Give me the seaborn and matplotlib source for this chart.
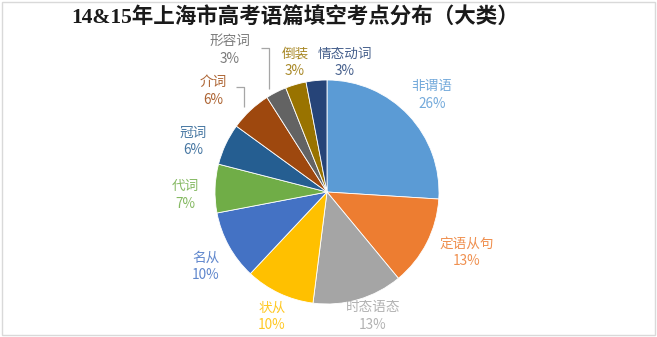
import matplotlib
matplotlib.use("Agg")
import matplotlib.pyplot as plt
import numpy as np
import seaborn as sns

# Exam point categories and their shares (%)
categories = ["非谓语", "定语从句", "时态语态", "状从", "名从", "代词",
              "冠词", "介词", "形容词", "倒装", "情态动词"]
shares = [26, 13, 13, 10, 10, 7, 6, 6, 3, 3, 3]
slice_colors = ["#5B9BD5", "#ED7D31", "#A5A5A5", "#FFC000", "#4472C4", "#70AD47",
                "#255E91", "#9E480E", "#636363", "#997300", "#264478"]
title = "14&15年上海市高考语篇填空考点分布（大类）"

sns.set_theme(style="white")
plt.rcParams["font.family"] = ["Noto Sans CJK SC", "DejaVu Sans"]

W, H = 657, 337
fig = plt.figure(figsize=(W / 100, H / 100), dpi=100)
ax = fig.add_axes([0, 0, 1, 1])

palette = sns.color_palette(slice_colors)
cx, cy, r = 327, H - 192, 112
wedges, _ = ax.pie(shares, colors=palette, startangle=90, counterclock=False,
                   center=(cx, cy), radius=r, frame=True,
                   wedgeprops=dict(edgecolor="white", linewidth=0.6))
ax.set_xlim(0, W)
ax.set_ylim(0, H)
ax.set_aspect("equal")
ax.axis("off")

# label anchor positions (pixel coords from the top-left)
label_pos = [(432, 95), (467, 252), (373, 316), (272, 316), (206, 266), (185, 195),
             (193, 141), (213, 91), (230, 50), (295, 62), (345, 62)]

for name, val, col, (px, py) in zip(categories, shares, slice_colors, label_pos):
    ax.text(px, H - py, f"{name}\n{val}%", ha="center", va="center",
            fontsize=9.8, color=col, linespacing=1.3, alpha=0.85)

# leader lines for the two small wedges on the upper left
for idx, (ex, ey) in {8: (261, 48), 7: (236, 87)}.items():
    w = wedges[idx]
    mid = np.deg2rad((w.theta1 + w.theta2) / 2)
    ty = cy + r * np.sin(mid)
    elbow_x = ex + 8
    ax.plot([ex, elbow_x, elbow_x], [H - ey, H - ey, ty + 3],
            color="#A6A6A6", lw=0.9, solid_capstyle="butt")

# title
ax.text(295, H - 17, title, ha="center", va="center", fontsize=15.5, fontweight="bold",
        family=["Liberation Serif", "Noto Sans CJK SC"], color="#1a1a1a")

# outer frame
ax.add_patch(plt.Rectangle((1.5, 2), 653, 333, fill=False, edgecolor="#D9D9D9", lw=1))

fig.savefig("out.png", dpi=100, facecolor="white")
